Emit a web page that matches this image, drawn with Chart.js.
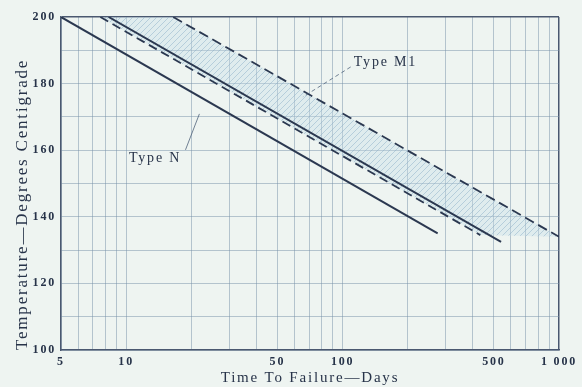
<!DOCTYPE html>
<html>
<head>
<meta charset="utf-8">
<script src="https://cdn.jsdelivr.net/npm/chart.js@4.4.0/dist/chart.umd.min.js"></script>
<style>
  html, body { margin: 0; padding: 0; background: #eef4f1; }
  #wrap { width: 582px; height: 387px; }
</style>
</head>
<body>
<div id="wrap"><canvas id="life"></canvas></div>
<script>
// end points of each life line, days / degrees C
var typeNLowDays = [5, 275];
var typeNLowTemp = [200, 135];
var typeNHighDays = [8.3, 540];
var typeNHighTemp = [200, 132.5];
var typeM1LowDays = [7.6, 433];
var typeM1LowTemp = [200, 134.5];
var typeM1HighDays = [16.5, 1000];
var typeM1HighTemp = [200, 134];

// grid and tick labels
var dayGrid = [5, 6, 7, 8, 9, 10, 20, 30, 40, 50, 60, 70, 80, 90, 100,
               200, 300, 400, 500, 600, 700, 800, 900, 1000];
var dayLabels = [5, 10, 50, 100, 500, 1000];
var tempGrid = [100, 110, 120, 130, 140, 150, 160, 170, 180, 190, 200];
var tempLabels = [100, 120, 140, 160, 180, 200];

// labels with leader lines (days, temp)
var notes = [
  { text: 'Type M1', at: [112.6, 186.5], from: [109, 185], to: [65.6, 176], dash: [4, 3] },
  { text: 'Type N', at: [10.3, 157.7], from: [18.8, 160.1], to: [21.8, 170.9], dash: [] }
];

var ink = '#273349';
var lineInk = '#2b3850';
var gridInk = 'rgba(120,145,170,0.5)';
var frameInk = '#4a5870';

function pts(xs, ys) {
  return xs.map(function(x, i){ return { x: x, y: ys[i] }; });
}

var bandPts = pts(typeM1LowDays, typeM1LowTemp)
  .concat(pts(typeM1HighDays, typeM1HighTemp).reverse());

var canvas = document.getElementById('life');
var hatchCanvas = document.createElement('canvas');
hatchCanvas.width = 6; hatchCanvas.height = 6;
var hg = hatchCanvas.getContext('2d');
hg.fillStyle = 'rgba(195,220,232,0.35)';
hg.fillRect(0, 0, 6, 6);
hg.strokeStyle = 'rgba(140,175,200,0.5)';
hg.lineWidth = 1;
hg.beginPath(); hg.moveTo(0, 6); hg.lineTo(6, 0); hg.stroke();
var hatch = canvas.getContext('2d').createPattern(hatchCanvas, 'repeat');

var spacing = {
  id: 'spacing',
  beforeLayout: function(chart){ chart.ctx.letterSpacing = '1.8px'; },
  beforeDraw: function(chart){ chart.ctx.letterSpacing = '1.8px'; }
};

var labelsPlugin = {
  id: 'notes',
  afterDatasetsDraw: function(chart){
    var ctx = chart.ctx, xs = chart.scales.x, ys = chart.scales.y;
    ctx.save();
    ctx.letterSpacing = '1.8px';
    notes.forEach(function(n){
      ctx.strokeStyle = 'rgba(70,90,115,0.75)';
      ctx.lineWidth = 1;
      ctx.setLineDash(n.dash);
      ctx.beginPath();
      ctx.moveTo(xs.getPixelForValue(n.from[0]), ys.getPixelForValue(n.from[1]));
      ctx.lineTo(xs.getPixelForValue(n.to[0]), ys.getPixelForValue(n.to[1]));
      ctx.stroke();
      ctx.setLineDash([]);
      ctx.fillStyle = ink;
      ctx.font = '14px "Liberation Serif"';
      ctx.textAlign = 'left';
      ctx.textBaseline = 'middle';
      ctx.fillText(n.text, xs.getPixelForValue(n.at[0]), ys.getPixelForValue(n.at[1]));
    });
    ctx.restore();
  }
};

function lineSet(data, dash) {
  return {
    data: data,
    showLine: true,
    borderColor: lineInk,
    borderWidth: dash.length ? 1.8 : 2,
    borderDash: dash,
    pointRadius: 0,
    tension: 0,
    fill: false
  };
}

var tickFont = { family: 'Liberation Serif', size: 12, weight: 'bold' };

new Chart(canvas, {
  type: 'scatter',
  data: {
    datasets: [
      lineSet(pts(typeNLowDays, typeNLowTemp), []),
      lineSet(pts(typeNHighDays, typeNHighTemp), []),
      lineSet(pts(typeM1LowDays, typeM1LowTemp), [9, 5]),
      lineSet(pts(typeM1HighDays, typeM1HighTemp), [10, 5]),
      {
        data: bandPts,
        showLine: true,
        borderWidth: 0,
        pointRadius: 0,
        tension: 0,
        backgroundColor: hatch,
        fill: 'shape',
        order: 10
      }
    ]
  },
  options: {
    responsive: true,
    maintainAspectRatio: false,
    animation: false,
    layout: { padding: { top: 17, right: 17, left: 0, bottom: 0 } },
    plugins: { legend: { display: false }, tooltip: { enabled: false } },
    scales: {
      x: {
        type: 'logarithmic',
        min: 5,
        max: 1000,
        afterBuildTicks: function(s){ s.ticks = dayGrid.map(function(v){ return { value: v }; }); },
        afterFit: function(s){ s.height = 37; },
        ticks: {
          autoSkip: false,
          maxRotation: 0,
          padding: 5,
          font: tickFont,
          color: ink,
          callback: function(v){
            if (dayLabels.indexOf(v) < 0) return '';
            return v === 1000 ? '1 000' : String(v);
          }
        },
        grid: {
          drawTicks: false,
          color: function(c){ return c.tick && c.tick.value === 1000 ? frameInk : gridInk; },
          lineWidth: function(c){ return c.tick && c.tick.value === 1000 ? 1.5 : 1; }
        },
        border: { color: frameInk, width: 1.5 },
        title: {
          display: true,
          text: 'Time To Failure—Days',
          color: ink,
          font: { family: 'Liberation Serif', size: 15 },
          padding: { top: 0, bottom: 0 }
        }
      },
      y: {
        min: 100,
        max: 200,
        afterBuildTicks: function(s){ s.ticks = tempGrid.map(function(v){ return { value: v }; }); },
        afterFit: function(s){ s.width = 61; },
        ticks: {
          padding: 5,
          font: tickFont,
          color: ink,
          callback: function(v){ return tempLabels.indexOf(v) < 0 ? '' : String(v); }
        },
        grid: {
          drawTicks: false,
          color: function(c){ return c.tick && c.tick.value === 200 ? frameInk : gridInk; },
          lineWidth: function(c){ return c.tick && c.tick.value === 200 ? 1.5 : 1; }
        },
        border: { color: frameInk, width: 1.5 },
        title: {
          display: true,
          text: 'Temperature—Degrees Centigrade',
          align: 'start',
          color: ink,
          font: { family: 'Liberation Serif', size: 17 },
          padding: { top: 12, bottom: 0 }
        }
      }
    }
  },
  plugins: [spacing, labelsPlugin]
});
</script>
</body>
</html>
